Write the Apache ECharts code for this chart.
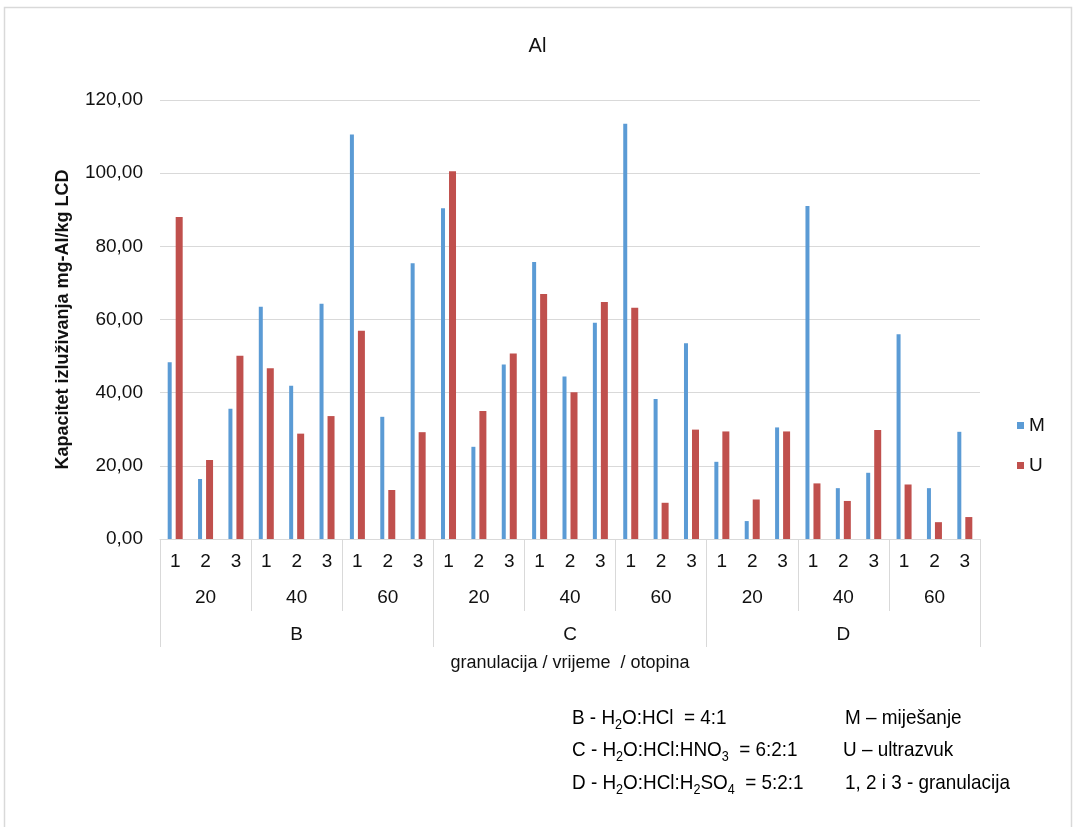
<!DOCTYPE html>
<html>
<head>
<meta charset="utf-8">
<title>Al</title>
<script src="https://cdn.jsdelivr.net/npm/echarts@6/dist/echarts.min.js"></script>
<style>
    html, body { margin: 0; padding: 0; background: #fff; }
    #chart { width: 1075px; height: 827px; }
</style>
</head>
<body>
<div id="chart"></div>
<script>
// razine kategorija: granulacija / vrijeme / otopina
const granulacija = ['1', '2', '3', '1', '2', '3', '1', '2', '3',
                     '1', '2', '3', '1', '2', '3', '1', '2', '3',
                     '1', '2', '3', '1', '2', '3', '1', '2', '3'];
const vrijeme = ['20', '40', '60', '20', '40', '60', '20', '40', '60'];
const otopina = ['B', 'C', 'D'];

// M - miješanje
const valuesM = [48.3, 16.4, 35.6, 63.5, 41.9, 64.3, 110.6, 33.4, 75.4,
                 90.4, 25.2, 47.7, 75.7, 44.4, 59.1, 113.5, 38.3, 53.5,
                 21.1, 4.9, 30.5, 91.0, 13.9, 18.1, 56.0, 13.9, 29.3];
// U - ultrazvuk
const valuesU = [88.0, 21.6, 50.1, 46.7, 28.8, 33.6, 56.9, 13.4, 29.2,
                 100.5, 35.0, 50.7, 67.0, 40.1, 64.8, 63.2, 9.9, 29.9,
                 29.4, 10.8, 29.4, 15.2, 10.4, 29.8, 14.9, 4.6, 6.0];

const yTicks = [0, 20, 40, 60, 80, 100, 120];

const FONT = "'Liberation Sans', Arial, sans-serif";
const GRIDLINE = '#d9d9d9';

// tekst s indeksima (H2O itd.), indeks se piše kao ['2']
function formula(parts) {
    return parts.map(p => (Array.isArray(p) ? '{s|' + p[0] + '}' : '{a|' + p + '}')).join('');
}
const footRich = {
    a: { fontFamily: FONT, fontSize: 21, color: '#222', lineHeight: 24, verticalAlign: 'bottom' },
    s: { fontFamily: FONT, fontSize: 14, color: '#222', lineHeight: 14, verticalAlign: 'bottom', padding: [0, 0, -3, 0] }
};
// legenda ispod grafa je u uskom fontu -> sužavamo po x
function footText(x, y, parts) {
    return {
        type: 'text', x: x, y: y, scaleX: 0.9,
        style: { text: formula(parts), rich: footRich }
    };
}

const chart = echarts.init(document.getElementById('chart'));
const option = {
    backgroundColor: '#fff',
    title: {
        text: 'Al',
        left: 'center',
        top: 31,
        textStyle: { fontFamily: FONT, fontSize: 20, fontWeight: 'normal', color: '#111' }
    },
    legend: {
        data: ['M', 'U'],
        orient: 'vertical',
        left: 1012,
        top: 411,
        itemWidth: 7,
        itemHeight: 7,
        itemGap: 21,
        icon: 'rect',
        textStyle: { fontFamily: FONT, fontSize: 19, color: '#111' }
    },
    grid: { left: 160, right: 95, top: 100, bottom: 288 },
    xAxis: [
        {
            type: 'category',
            position: 'bottom',
            data: granulacija,
            axisLine: { lineStyle: { color: GRIDLINE, width: 1 } },
            axisTick: { show: false },
            axisLabel: { interval: 0, margin: 13, fontFamily: FONT, fontSize: 19, color: '#111' },
            name: 'granulacija / vrijeme  / otopina',
            nameLocation: 'middle',
            nameGap: 115,
            nameTextStyle: { fontFamily: FONT, fontSize: 18, color: '#111' }
        },
        {
            type: 'category',
            position: 'bottom',
            data: vrijeme,
            axisLine: { show: false },
            axisTick: { show: true, length: 72, lineStyle: { color: GRIDLINE, width: 1 } },
            axisLabel: { interval: 0, margin: 49, fontFamily: FONT, fontSize: 19, color: '#111' }
        },
        {
            type: 'category',
            position: 'bottom',
            data: otopina,
            axisLine: { show: false },
            axisTick: { show: true, length: 108, lineStyle: { color: GRIDLINE, width: 1 } },
            axisLabel: { interval: 0, margin: 86, fontFamily: FONT, fontSize: 19, color: '#111' }
        }
    ],
    yAxis: {
        type: 'value',
        min: yTicks[0],
        max: yTicks[yTicks.length - 1],
        interval: 20,
        axisLine: { show: false },
        axisTick: { show: false },
        splitLine: { lineStyle: { color: GRIDLINE, width: 1 } },
        axisLabel: {
            margin: 17,
            fontFamily: FONT,
            fontSize: 19,
            color: '#111',
            formatter: v => v.toFixed(2).replace('.', ',')
        },
        name: 'Kapacitet izluživanja mg-Al/kg LCD',
        nameLocation: 'middle',
        nameGap: 88,
        nameTextStyle: { fontFamily: FONT, fontSize: 18, fontWeight: 'bold', color: '#111' }
    },
    series: [
        {
            name: 'M',
            type: 'bar',
            xAxisIndex: 0,
            data: valuesM,
            barWidth: 4,
            barGap: '100%',
            itemStyle: { color: '#5b9bd5' }
        },
        {
            name: 'U',
            type: 'bar',
            xAxisIndex: 0,
            data: valuesU,
            barWidth: 7,
            barGap: '100%',
            itemStyle: { color: '#c0504d' }
        }
    ],
    graphic: [
        {
            type: 'rect',
            silent: true,
            shape: { x: 4.5, y: 7.5, width: 1067, height: 840 },
            style: { fill: 'none', stroke: GRIDLINE, lineWidth: 1.5 }
        },
        footText(572, 705, ['B - H', ['2'], 'O:HCl  = 4:1']),
        footText(572, 737, ['C - H', ['2'], 'O:HCl:HNO', ['3'], '  = 6:2:1']),
        footText(572, 770, ['D - H', ['2'], 'O:HCl:H', ['2'], 'SO', ['4'], '  = 5:2:1']),
        footText(845, 705, ['M – miješanje']),
        footText(843, 737, ['U – ultrazvuk']),
        footText(845, 770, ['1, 2 i 3 - granulacija'])
    ]
};
chart.setOption(option);
window.addEventListener('resize', () => chart.resize());
</script>
</body>
</html>
